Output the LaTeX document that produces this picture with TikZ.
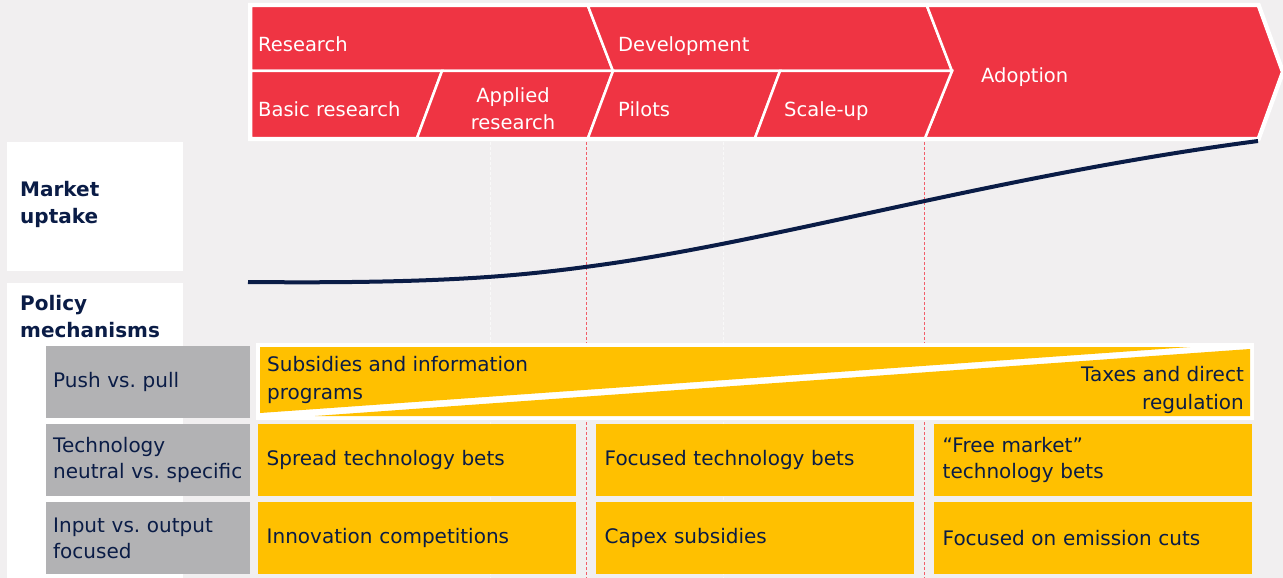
\documentclass[tikz,border=0pt]{standalone}
\usepackage{fontspec}
\setmainfont{DejaVu Sans}
\usetikzlibrary{positioning}
\definecolor{bgGray}{RGB}{241,239,240}
\definecolor{stageRed}{RGB}{239,52,67}
\definecolor{policyYellow}{RGB}{255,192,0}
\definecolor{labelGray}{RGB}{178,178,180}
\definecolor{navy}{RGB}{10,28,70}
\tikzset{
  stage/.style={fill=stageRed, draw=white, line width=2.5pt, line join=miter},
  stagetext/.style={text=white, font=\fontsize{19.5}{27}\selectfont, inner sep=0pt, anchor=base west, align=left},
  headtext/.style={text=navy, font=\fontsize{20}{27}\selectfont\bfseries, inner sep=0pt, anchor=base west, align=left},
  rowlabel/.style={fill=labelGray, text=navy, font=\fontsize{20}{26}\selectfont, anchor=north west,
    minimum width=204pt, minimum height=72pt, text width=190pt, inner xsep=7pt, align=left},
  cell/.style={fill=policyYellow, text=navy, font=\fontsize{20}{26}\selectfont, anchor=north west,
    minimum width=318pt, minimum height=72pt, text width=301pt, inner xsep=8.5pt, align=left},
  celltext/.style={text=navy, font=\fontsize{20}{28}\selectfont, inner sep=0pt, align=left},
  phase/.style={draw=stageRed!80, line width=0.8pt, dash pattern=on 3pt off 2pt},
  faint/.style={draw=white!60!bgGray, line width=0.8pt, dash pattern=on 3pt off 2pt},
  uptake/.style={draw=navy, line width=4pt}
}
\begin{document}
\begin{tikzpicture}[x=1pt, y=-1pt]
  \fill[bgGray] (0,0) rectangle (1283,578);
  \useasboundingbox (0,0) rectangle (1283,578);

  % stages of the innovation chain
  \filldraw[white, line width=6pt, line join=miter] (251,6) -- (1258,6) -- (1282,72) -- (1258,138) -- (251,138) -- cycle;
  \filldraw[stage] (251,6) -- (588,6) -- (613,71) -- (251,71) -- cycle;
  \filldraw[stage] (588,6) -- (927,6) -- (952,71) -- (613,71) -- cycle;
  \filldraw[stage] (927,6) -- (1258,6) -- (1282,72) -- (1258,138) -- (925,138) -- (952,71) -- cycle;
  \filldraw[stage] (251,71) -- (442,71) -- (417,138) -- (251,138) -- cycle;
  \filldraw[stage] (442,71) -- (613,71) -- (588,138) -- (417,138) -- cycle;
  \filldraw[stage] (613,71) -- (780,71) -- (755,138) -- (588,138) -- cycle;
  \filldraw[stage] (780,71) -- (952,71) -- (925,138) -- (755,138) -- cycle;

  \node[stagetext] (research) at (258,52) {Research};
  \node[stagetext] (development) at (618,52) {Development};
  \node[stagetext] (adoption) at (981,83) {Adoption};
  \node[stagetext] (basic) at (258,116) {Basic research};
  \node[stagetext, anchor=base, align=center] (applied) at (513,129) {Applied\\research};
  \node[stagetext] (pilots) at (618,116) {Pilots};
  \node[stagetext] (scaleup) at (784,116) {Scale-up};

  % row headings
  \fill[white] (7,142) rectangle (183,271);
  \fill[white] (7,283) rectangle (183,578);
  \node[headtext] (market) at (20,223) {Market\\uptake};
  \node[headtext] (policy) at (20,337) {Policy\\mechanisms};

  % phase boundaries
  \draw[faint] (490,142) -- (490,578);
  \draw[faint] (723,142) -- (723,578);
  \draw[phase] (586,142) -- (586,578);
  \draw[phase] (924,142) -- (924,578);

  % market uptake
  \draw[uptake] (248,282) .. controls (450,284) and (527,275) .. (600,265)
    .. controls (780,240) and (1000,175) .. (1258,141);

  % policy mechanisms
  \node[rowlabel] (pushpull) at (46,346) {Push vs.\ pull};
  \node[rowlabel] (neutral) at (46,424) {Technology\\neutral vs.\ specific};
  \node[rowlabel] (inout) at (46,502) {Input vs.\ output\\focused};

  \fill[white] (256,343) rectangle (1254,420);
  \fill[policyYellow] (260,347) -- (1190,347) -- (260,413) -- cycle;
  \fill[policyYellow] (315,416) -- (1250,349) -- (1250,416) -- cycle;
  \node[celltext, anchor=base west] (push) at (267,399) {Subsidies and information\\programs};
  \node[celltext, anchor=base east, align=right] (pull) at (1244,409) {Taxes and direct\\regulation};

  \node[cell] (spread) at (258,424) {Spread technology bets};
  \node[cell] (focused) at (596,424) {Focused technology bets};
  \node[cell] (freemarket) at (934,424) {“Free market”\\technology bets};
  \node[cell] (competitions) at (258,502) {Innovation competitions};
  \node[cell] (capex) at (596,502) {Capex subsidies};
  \node[cell] (emission) at (934,502) {Focused on emission cuts};
\end{tikzpicture}
\end{document}
